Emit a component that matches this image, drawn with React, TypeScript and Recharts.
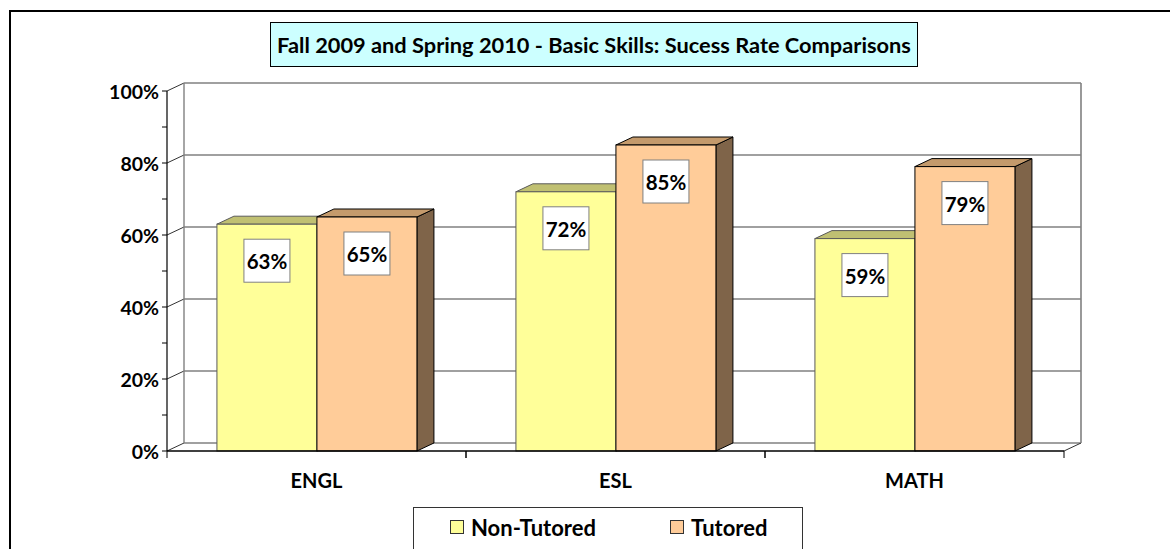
import React from "react";
import { BarChart, Bar, XAxis, YAxis, CartesianGrid, LabelList, Legend } from "recharts";

const categories = ["ENGL", "ESL", "MATH"];
const nonTutored = [63, 72, 59];
const tutored = [65, 85, 79];
const yTicks = [0, 10, 20, 30, 40, 50, 60, 70, 80, 90, 100];
const seriesNames = ["Non-Tutored", "Tutored"];
const titleText = "Fall 2009 and Spring 2010 - Basic Skills: Sucess Rate Comparisons";

const data = categories.map((c, i) => ({ cat: c, nonTutored: nonTutored[i], tutored: tutored[i] }));

const W = 1170;
const H = 549;
const MARGIN = { top: 91, right: 106, bottom: 58, left: 87 };
const Y_W = 80;
const X_H = 40;
const PLOT_W = W - MARGIN.left - Y_W - MARGIN.right;
const DX = 17;
const DY = 8;
const FONT = "Lato, 'Open Sans', sans-serif";
const GRID = "#808080";

const COLORS = {
  nonFront: "#FFFF99",
  nonTop: "#C0C072",
  nonSide: "#80804C",
  nonStroke: "#5a5a5a",
  tutFront: "#FFCC99",
  tutTop: "#C49A6C",
  tutSide: "#7F6449",
  tutStroke: "#000000",
};

const make3D = (front: string, top: string, side: string, stroke: string) => (props: any) => {
  const x = Number(props.x);
  const y = Number(props.y);
  const w = Number(props.width);
  const h = Number(props.height);
  if (!isFinite(x) || !isFinite(y) || !isFinite(w) || !isFinite(h)) return null;
  return (
    <g>
      <polygon
        points={`${x + w},${y} ${x + w + DX},${y - DY} ${x + w + DX},${y + h - DY} ${x + w},${y + h}`}
        fill={side}
        stroke={stroke}
        strokeWidth={1}
        strokeLinejoin="round"
      />
      <polygon
        points={`${x},${y} ${x + DX},${y - DY} ${x + w + DX},${y - DY} ${x + w},${y}`}
        fill={top}
        stroke={stroke}
        strokeWidth={1}
        strokeLinejoin="round"
      />
      <rect x={x} y={y} width={w} height={h} fill={front} stroke={stroke} strokeWidth={1} />
    </g>
  );
};

const ValueBox = (props: any) => {
  const x = Number(props.x);
  const y = Number(props.y);
  const w = Number(props.width);
  const cx = x + w / 2;
  const top = y + 15;
  return (
    <g>
      <rect x={cx - 23} y={top} width={46} height={43} fill="#ffffff" stroke="#808080" strokeWidth={1} />
      <text
        x={cx}
        y={top + 22}
        textAnchor="middle"
        dominantBaseline="central"
        fontFamily={FONT}
        fontWeight={700}
        fontSize={20.5}
        fill="#000"
      >
        {props.value}%
      </text>
    </g>
  );
};

const YTick = (props: any) => {
  const x = Number(props.x);
  const y = Number(props.y);
  const v = props.payload.value;
  const major = v % 20 === 0;
  return (
    <g>
      <line x1={x - 5} y1={y} x2={x} y2={y} stroke="#000" strokeWidth={1} />
      {major && (
        <text
          x={x - 8}
          y={y}
          textAnchor="end"
          dominantBaseline="central"
          fontFamily={FONT}
          fontWeight={700}
          fontSize={19.5}
          fill="#000"
        >
          {v}%
        </text>
      )}
    </g>
  );
};

const XTick = (props: any) => {
  const x = Number(props.x);
  const y = Number(props.y);
  const half = PLOT_W / categories.length / 2;
  return (
    <g>
      <line x1={x - half} y1={y} x2={x - half} y2={y + 7} stroke="#000" strokeWidth={1} />
      <line x1={x + half} y1={y} x2={x + half} y2={y + 7} stroke="#000" strokeWidth={1} />
      <text
        x={x}
        y={y + 29}
        textAnchor="middle"
        dominantBaseline="central"
        fontFamily={FONT}
        fontWeight={700}
        fontSize={20}
        fill="#000"
      >
        {props.payload.value}
      </text>
    </g>
  );
};

const GridLine = (props: any) => {
  const x1 = Number(props.x1);
  const x2 = Number(props.x2);
  const y1 = Number(props.y1);
  const idx = Number(props.index);
  const top = props.y != null ? Number(props.y) : MARGIN.top;
  const bottom = props.height != null ? top + Number(props.height) : H - MARGIN.bottom - X_H;
  const isTop = Math.abs(y1 - top) < 0.5;
  const isBottom = Math.abs(y1 - bottom) < 0.5;
  if (idx % 2 === 1) return <g />;
  return (
    <g>
      <line x1={x1} y1={y1} x2={x1 + DX} y2={y1 - DY} stroke="#333" strokeWidth={1} />
      <line x1={x1 + DX} y1={y1 - DY} x2={x2 + DX} y2={y1 - DY} stroke={GRID} strokeWidth={1.6} />
      {isBottom && <line x1={x2} y1={y1} x2={x2 + DX} y2={y1 - DY} stroke="#333" strokeWidth={1} />}
      {isTop && (
        <>
          <line x1={x1 + DX} y1={y1 - DY} x2={x1 + DX} y2={bottom - DY} stroke={GRID} strokeWidth={1.4} />
          <line x1={x2 + DX} y1={y1 - DY} x2={x2 + DX} y2={bottom - DY} stroke={GRID} strokeWidth={1.6} />
        </>
      )}
    </g>
  );
};

const LegendContent = () => (
  <div
    style={{
      position: "relative",
      width: 388,
      height: 60,
      border: "1px solid #333",
      background: "#fff",
      fontFamily: FONT,
      fontWeight: 700,
      fontSize: 22,
      color: "#000",
    }}
  >
    {[COLORS.nonFront, COLORS.tutFront].map((c, i) => (
      <div
        key={i}
        style={{
          position: "absolute",
          left: i === 0 ? 36 : 256,
          top: 5,
          display: "flex",
          alignItems: "center",
          height: 28,
          whiteSpace: "nowrap",
        }}
      >
        <span
          style={{
            display: "inline-block",
            width: 12,
            height: 12,
            background: c,
            border: "1px solid #333",
            marginRight: 7,
          }}
        />
        <span>{seriesNames[i]}</span>
      </div>
    ))}
  </div>
);

export default function App() {
  return (
    <div style={{ position: "relative", width: W, height: H, overflow: "hidden", background: "#fff" }}>
      <style>{"body{margin:0;}"}</style>
      <div
        style={{
          position: "absolute",
          left: 9,
          top: 10,
          width: 1400,
          height: 800,
          border: "2px solid #000",
          boxSizing: "border-box",
        }}
      />
      <div
        style={{
          position: "absolute",
          left: 270,
          top: 22,
          width: 648,
          height: 45,
          boxSizing: "border-box",
          background: "#CCFFFF",
          border: "1px solid #000",
          display: "flex",
          alignItems: "center",
          justifyContent: "center",
          fontFamily: FONT,
          fontWeight: 700,
          fontSize: 21.8,
          color: "#000",
          whiteSpace: "nowrap",
        }}
      >
        {titleText}
      </div>
      <div style={{ position: "absolute", left: 0, top: 0 }}>
        <BarChart
          width={W}
          height={H}
          data={data}
          margin={MARGIN}
          barCategoryGap="16.7%"
          barGap={0}
        >
          <CartesianGrid horizontal={GridLine as any} vertical={false} />
          <XAxis
            dataKey="cat"
            height={X_H}
            axisLine={{ stroke: "#000", strokeWidth: 1.5 }}
            tickLine={false}
            tickSize={0}
            tickMargin={0}
            tick={XTick as any}
            interval={0}
          />
          <YAxis
            width={Y_W}
            domain={[0, 100]}
            ticks={yTicks}
            interval={0}
            axisLine={{ stroke: "#000", strokeWidth: 1.2 }}
            tickLine={false}
            tickSize={0}
            tickMargin={0}
            tick={YTick as any}
          />
          <Legend
            layout="horizontal"
            verticalAlign="middle"
            align="center"
            wrapperStyle={{ left: 413, top: 507, width: 390, height: 60 }}
            content={LegendContent as any}
          />
          <Bar
            dataKey="nonTutored"
            name={seriesNames[0]}
            fill={COLORS.nonFront}
            shape={make3D(COLORS.nonFront, COLORS.nonTop, COLORS.nonSide, COLORS.nonStroke) as any}
            isAnimationActive={false}
          >
            <LabelList dataKey="nonTutored" content={ValueBox as any} />
          </Bar>
          <Bar
            dataKey="tutored"
            name={seriesNames[1]}
            fill={COLORS.tutFront}
            shape={make3D(COLORS.tutFront, COLORS.tutTop, COLORS.tutSide, COLORS.tutStroke) as any}
            isAnimationActive={false}
          >
            <LabelList dataKey="tutored" content={ValueBox as any} />
          </Bar>
        </BarChart>
      </div>
    </div>
  );
}
